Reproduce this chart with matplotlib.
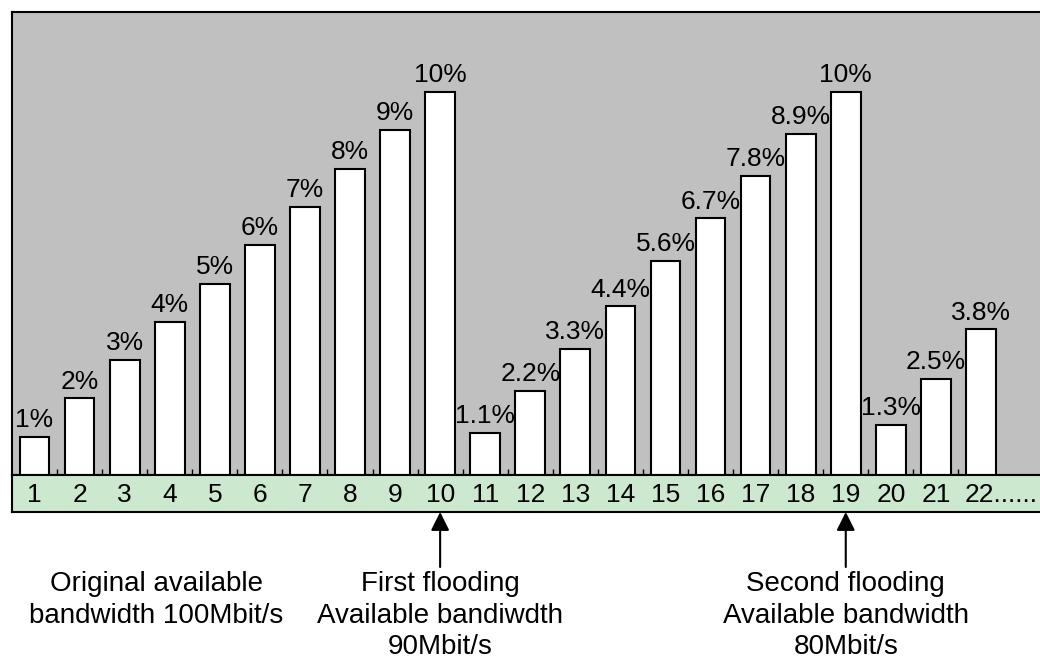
import matplotlib
matplotlib.use("Agg")
import matplotlib.pyplot as plt
from matplotlib import transforms

plt.rcParams['font.family'] = ['Liberation Sans', 'DejaVu Sans']

# Data
slots = list(range(1, 23))
shares = [1, 2, 3, 4, 5, 6, 7, 8, 9, 10,
          1.1, 2.2, 3.3, 4.4, 5.6, 6.7, 7.8, 8.9, 10,
          1.3, 2.5, 3.8]
share_labels = ["1%", "2%", "3%", "4%", "5%", "6%", "7%", "8%", "9%", "10%",
                "1.1%", "2.2%", "3.3%", "4.4%", "5.6%", "6.7%", "7.8%", "8.9%", "10%",
                "1.3%", "2.5%", "3.8%"]
slot_labels = [str(s) for s in slots[:-1]] + ["22......"]
flood_slots = [10, 19]
notes = [(3.7, "Original available\nbandwidth 100Mbit/s"),
         (10, "First flooding\nAvailable bandiwdth\n90Mbit/s"),
         (19, "Second flooding\nAvailable bandwidth\n80Mbit/s")]

W, H = 1040, 662
FS = 19
fig = plt.figure(figsize=(W / 100, H / 100), dpi=100)

def frac_box(x0, y0, x1, y1):
    return [x0 / W, 1 - y1 / H, (x1 - x0) / W, (y1 - y0) / H]

px_per_slot = 45.07
x_left = 1 - (34.5 - 12) / px_per_slot
x_right = 1 + (1050 - 34.5) / px_per_slot

# Bar panel
ax = fig.add_axes(frac_box(12, 12, 1050, 475))
ax.set_facecolor('#c0c0c0')
ax.bar(slots, shares, width=0.66, color='white', edgecolor='black', linewidth=1.5, zorder=3)
for x, v, lab in zip(slots, shares, share_labels):
    ax.annotate(lab, (x, v), xytext=(0, 3.5), textcoords='offset points',
                ha='center', va='bottom', fontsize=FS, zorder=4)
ax.set_xlim(x_left, x_right)
ax.set_ylim(0, 463 / 38.3)
ax.set_xticks([s + 0.5 for s in slots[:-1]])
ax.tick_params(axis='x', direction='in', length=4, width=1, labelbottom=False)
ax.set_yticks([])
for side in ('left', 'top', 'bottom'):
    ax.spines[side].set_linewidth(1.5)
ax.spines['right'].set_visible(False)

# Slot number band
band = fig.add_axes(frac_box(12, 475, 1050, 512))
band.set_facecolor('#cce8cf')
band.set_xlim(x_left, x_right)
band.set_ylim(0, 1)
band.set_xticks([])
band.set_yticks([])
for side in ('left', 'top', 'bottom'):
    band.spines[side].set_linewidth(1.5)
band.spines['right'].set_visible(False)
for x, lab in zip(slots, slot_labels):
    if lab.startswith("22"):
        band.text(x - 0.36, 0.45, lab, ha='left', va='center', fontsize=FS)
    else:
        band.text(x, 0.45, lab, ha='center', va='center', fontsize=FS)

# Flooding arrows and notes
for s in flood_slots:
    band.annotate('', xy=(s, 0), xycoords='data',
                  xytext=(s, -(567 - 512) / 37), textcoords='data',
                  arrowprops=dict(arrowstyle='-|>', color='black', lw=1.5,
                                  mutation_scale=28, shrinkA=0, shrinkB=0),
                  annotation_clip=False)

trans = transforms.blended_transform_factory(band.transData, fig.transFigure)
for x, txt in notes:
    fig.text(x, 1 - 571 / H, txt, transform=trans, ha='center', va='top',
             fontsize=20, linespacing=1.28)

fig.savefig('out.png', dpi=100)
